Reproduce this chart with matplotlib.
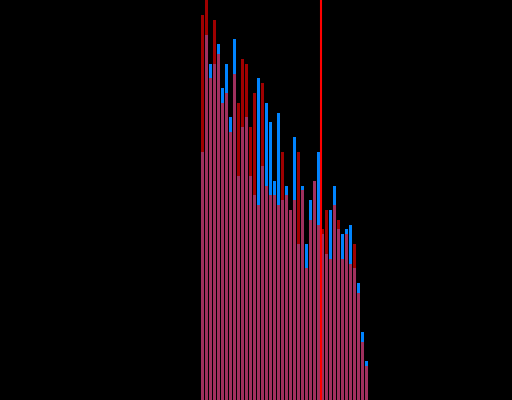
import matplotlib
matplotlib.use("Agg")
import matplotlib.pyplot as plt
import numpy as np

# histogram counts per bin
red_counts = [79, 84, 66, 78, 71, 61, 63, 55, 67, 61, 70, 69, 56, 63, 40, 65,
              44, 42, 42, 40, 51, 42, 39, 41, 51, 43, 27, 37, 45, 36, 35, 39,
              29, 40, 37, 29, 34, 28, 32, 22, 12, 7]
blue_counts = [51, 75, 69, 69, 73, 64, 69, 58, 74, 46, 56, 58, 46, 42, 66, 48,
               61, 57, 45, 59, 41, 44, 39, 54, 32, 44, 32, 41, 45, 51, 34, 30,
               39, 44, 35, 34, 35, 36, 27, 24, 14, 8]
cut_bin = 29.5

bins = np.arange(len(red_counts))

fig = plt.figure(figsize=(5.12, 4.0), dpi=100, facecolor="black")
ax = fig.add_axes([0, 0, 1, 1])
ax.set_facecolor("black")

ax.bar(bins, blue_counts, width=0.75, color="#0084ff")
ax.bar(bins, red_counts, width=0.75, color="#ff0000", alpha=0.63)
ax.axvline(cut_bin, color="#ff0000", linewidth=1.5)

ax.set_xlim(-50.625, 77.375)
ax.set_ylim(0, 82.1)
ax.axis("off")

fig.savefig("out.png", dpi=100, facecolor="black")
